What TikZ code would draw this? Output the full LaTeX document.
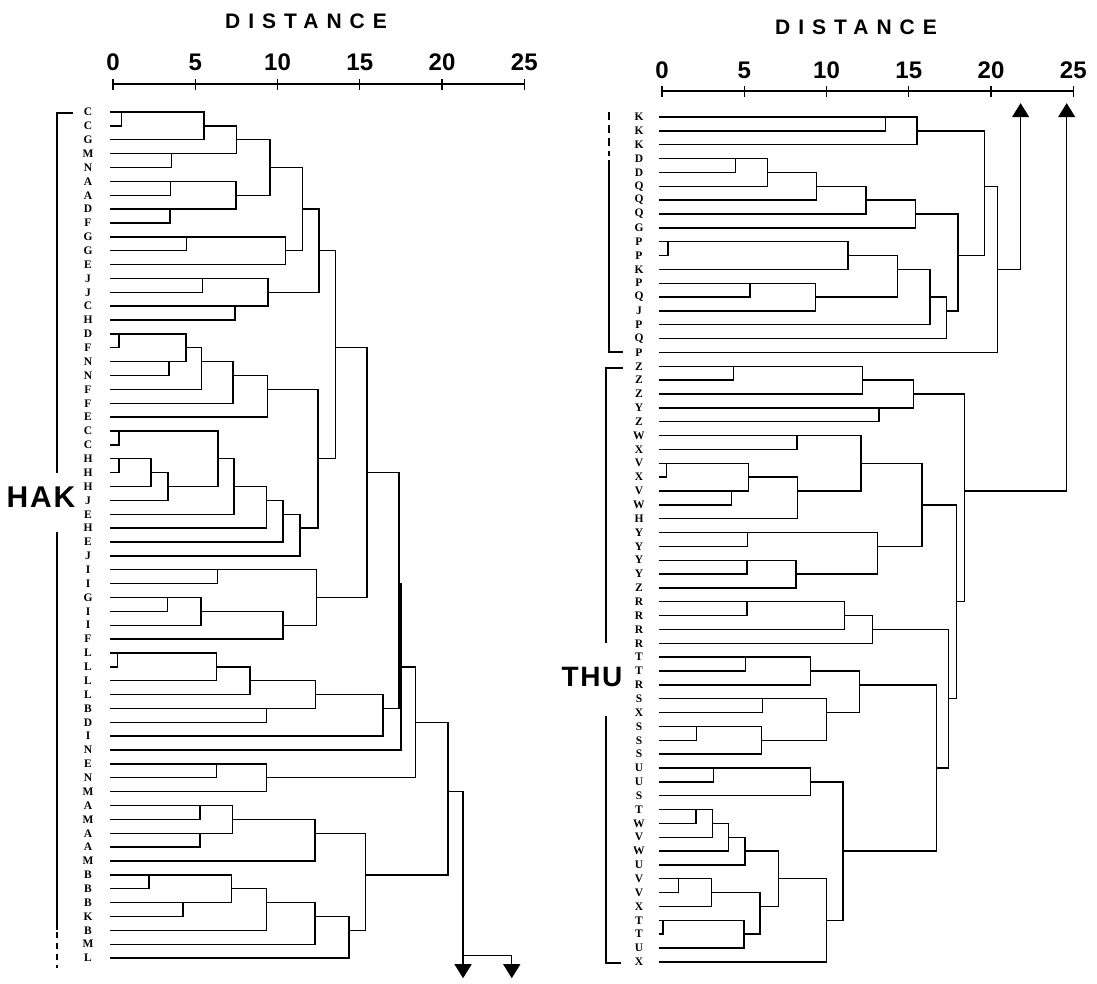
\documentclass[tikz,border=0pt]{standalone}
\usepackage{fontspec}
\setmainfont{Liberation Sans}
\newfontfamily\leaffont{Liberation Serif}
\usetikzlibrary{arrows.meta}

% row bookkeeping for the dendrogram nodes
\newcommand\setrow[2]{\expandafter\xdef\csname dgrow-#1\endcsname{#2}}
\newcommand\getrow[1]{\csname dgrow-#1\endcsname}
% leaf: coordinate name, row, label text
\newcommand\dgleaf[3]{%
  \coordinate (#1) at (-0.2,#2);%
  \node[leaflab] (#1n) at (\lblx,#2) {#3};%
  \setrow{#1}{#2}}
% join two clusters at a given distance; the new node sits on the middle row
\newcommand\dgjoin[4]{%
  \edef\dga{\getrow{#2}}\edef\dgb{\getrow{#3}}%
  \pgfmathtruncatemacro\dgr{floor((\dga+\dgb)/2)}%
  \setrow{#1}{\dgr}%
  \coordinate (#1) at (#4,\dgr);%
  \draw[tree] (#2) -- (#2 -| #1) -- (#3 -| #1) -- (#3);}

\tikzset{
  tree/.style={line width=1.4pt, line join=miter},
  leaflab/.style={font=\leaffont\bfseries\fontsize{11.5}{11.5}\selectfont, inner sep=0pt},
  ticklab/.style={font=\bfseries\fontsize{24}{24}\selectfont, inner sep=0pt},
  heading/.style={font=\bfseries\fontsize{21}{21}\selectfont\addfontfeature{LetterSpace=38}, inner sep=0pt},
  grouplab/.style={font=\bfseries\fontsize{28}{28}\selectfont\addfontfeature{LetterSpace=6}, inner sep=0pt},
  axisline/.style={line width=1.4pt},
  bracket/.style={line width=1.7pt},
  drop/.style={-{Triangle[width=17pt,length=14pt]}},
}

\begin{document}
\begin{tikzpicture}[x=1pt,y=-1pt]
\useasboundingbox (0,0) rectangle (1097,983);

% ---------- distance scales ----------
\node[heading] (hl) at (306,21) {DISTANCE};
\node[heading] (hr) at (856,27) {DISTANCE};
\draw[axisline] (113,84) -- (524.25,84);
\foreach \k in {0,...,5}{
  \draw[axisline] ({113+82.25*\k},79) -- ({113+82.25*\k},90);
  \pgfmathtruncatemacro\v{5*\k}
  \node[ticklab] (tl\k) at ({113+82.25*\k},62) {\v};
}
\draw[axisline] (662,91) -- (1073.25,91);
\foreach \k in {0,...,5}{
  \draw[axisline] ({662+82.25*\k},86) -- ({662+82.25*\k},97);
  \pgfmathtruncatemacro\v{5*\k}
  \node[ticklab] (tr\k) at ({662+82.25*\k},70) {\v};
}

% ---------- group brackets ----------
\node[grouplab, font=\bfseries\fontsize{30}{30}\selectfont\addfontfeature{LetterSpace=6}] (hak) at (41,497) {HAK};
\draw[bracket] (73,113) -- (57,113) -- (57,473);
\draw[bracket] (57,532) -- (57,930);
\draw[bracket, dashed, dash pattern=on 6pt off 5pt] (57,932) -- (57,968);

\node[grouplab] (thu) at (592,677) {THU};
\draw[bracket, dashed, dash pattern=on 8pt off 5pt] (609,112) -- (609,156);
\draw[bracket] (609,160) -- (609,352) -- (623,352);
\draw[bracket] (623,368) -- (606,368) -- (606,643);
\draw[bracket] (606,716) -- (606,963) -- (621,963);

% ---------- HAK dendrogram ----------
\begin{scope}[xshift=113pt, yshift=-98.13pt, x=16.45pt, y=-13.87pt]
\def\lblx{-1.52}
\foreach \t [count=\i] in {C,C,G,M,N,A,A,D,F,G,G,E,J,J,C,H,D,F,N,N,F,F,E,C,C,H,H,H,J,E,H,E,J,I,I,G,I,I,F,L,L,L,L,B,D,I,N,E,N,M,A,M,A,A,M,B,B,B,K,B,M,L}
  {\dgleaf{a\i}{\i}{\t}}
\dgjoin{a1t2}{a1}{a2}{0.53}
\dgjoin{a1t3}{a1t2}{a3}{5.53}
\dgjoin{a4t5}{a4}{a5}{3.57}
\dgjoin{a1t5}{a1t3}{a4t5}{7.52}
\dgjoin{a6t7}{a6}{a7}{3.5}
\dgjoin{a8t9}{a8}{a9}{3.47}
\dgjoin{a6t9}{a6t7}{a8t9}{7.48}
\dgjoin{a1t9}{a1t5}{a6t9}{9.54}
\dgjoin{a10t11}{a10}{a11}{4.48}
\dgjoin{a10t12}{a10t11}{a12}{10.5}
\dgjoin{a1t12}{a1t9}{a10t12}{11.52}
\dgjoin{a13t14}{a13}{a14}{5.45}
\dgjoin{a15t16}{a15}{a16}{7.42}
\dgjoin{a13t16}{a13t14}{a15t16}{9.42}
\dgjoin{a1t16}{a1t12}{a13t16}{12.52}
\dgjoin{a17t18}{a17}{a18}{0.36}
\dgjoin{a19t20}{a19}{a20}{3.4}
\dgjoin{a17t20}{a17t18}{a19t20}{4.44}
\dgjoin{a17t21}{a17t20}{a21}{5.39}
\dgjoin{a17t22}{a17t21}{a22}{7.3}
\dgjoin{a17t23}{a17t22}{a23}{9.4}
\dgjoin{a24t25}{a24}{a25}{0.36}
\dgjoin{a26t27}{a26}{a27}{0.36}
\dgjoin{a26t28}{a26t27}{a28}{2.31}
\dgjoin{a26t29}{a26t28}{a29}{3.34}
\dgjoin{a24t29}{a24t25}{a26t29}{6.38}
\dgjoin{a24t30}{a24t29}{a30}{7.36}
\dgjoin{a24t31}{a24t30}{a31}{9.34}
\dgjoin{a24t32}{a24t31}{a32}{10.33}
\dgjoin{a24t33}{a24t32}{a33}{11.37}
\dgjoin{a17t33}{a17t23}{a24t33}{12.46}
\dgjoin{a1t33}{a1t16}{a17t33}{13.54}
\dgjoin{a34t35}{a34}{a35}{6.36}
\dgjoin{a36t37}{a36}{a37}{3.33}
\dgjoin{a36t38}{a36t37}{a38}{5.35}
\dgjoin{a36t39}{a36t38}{a39}{10.33}
\dgjoin{a34t39}{a34t35}{a36t39}{12.37}
\dgjoin{a1t39}{a1t33}{a34t39}{15.44}
\dgjoin{a40t41}{a40}{a41}{0.29}
\dgjoin{a40t42}{a40t41}{a42}{6.3}
\dgjoin{a40t43}{a40t42}{a43}{8.33}
\dgjoin{a44t45}{a44}{a45}{9.34}
\dgjoin{a40t45}{a40t43}{a44t45}{12.31}
\dgjoin{a40t46}{a40t45}{a46}{16.41}
\dgjoin{a1t46}{a1t39}{a40t46}{17.39}
\dgjoin{a1t47}{a1t46}{a47}{17.5}
\dgjoin{a48t49}{a48}{a49}{6.3}
\dgjoin{a48t50}{a48t49}{a50}{9.33}
\dgjoin{a1t50}{a1t47}{a48t50}{18.4}
\dgjoin{a51t52}{a51}{a52}{5.29}
\dgjoin{a53t54}{a53}{a54}{5.29}
\dgjoin{a51t54}{a51t52}{a53t54}{7.28}
\dgjoin{a51t55}{a51t54}{a55}{12.28}
\dgjoin{a56t57}{a56}{a57}{2.19}
\dgjoin{a58t59}{a58}{a59}{4.26}
\dgjoin{a56t59}{a56t57}{a58t59}{7.22}
\dgjoin{a56t60}{a56t59}{a60}{9.34}
\dgjoin{a56t61}{a56t60}{a61}{12.28}
\dgjoin{a56t62}{a56t61}{a62}{14.35}
\dgjoin{a51t62}{a51t55}{a56t62}{15.36}
\dgjoin{a1t62}{a1t50}{a51t62}{20.36}
% continuation of the HAK cluster off the scale
\coordinate (aout) at (21.28,\getrow{a1t62});
\coordinate (asplit) at (21.28,61.8);
\coordinate (asplitr) at (24.24,61.8);
\coordinate (atipa) at (21.28,63.45);
\coordinate (atipb) at (24.24,63.45);
\draw[tree, drop] (a1t62) -- (aout) -- (atipa);
\draw[tree, drop] (asplit) -- (asplitr) -- (atipb);
\end{scope}

% ---------- THU dendrogram ----------
\begin{scope}[xshift=662pt, yshift=-103.15pt, x=16.45pt, y=-13.85pt]
\def\lblx{-1.40}
\foreach \t [count=\i] in {K,K,K,D,D,Q,Q,Q,G,P,P,K,P,Q,J,P,Q,P,Z,Z,Z,Y,Z,W,X,V,X,V,W,H,Y,Y,Y,Y,Z,R,R,R,R,T,T,R,S,X,S,S,S,U,U,S,T,W,V,W,U,V,V,X,T,T,U,X}
  {\dgleaf{b\i}{\i}{\t}}
\dgjoin{b1t2}{b1}{b2}{13.6}
\dgjoin{b1t3}{b1t2}{b3}{15.5}
\dgjoin{b4t5}{b4}{b5}{4.48}
\dgjoin{b4t6}{b4t5}{b6}{6.43}
\dgjoin{b4t7}{b4t6}{b7}{9.40}
\dgjoin{b4t8}{b4t7}{b8}{12.4}
\dgjoin{b4t9}{b4t8}{b9}{15.4}
\dgjoin{b10t11}{b10}{b11}{0.36}
\dgjoin{b10t12}{b10t11}{b12}{11.3}
\dgjoin{b13t14}{b13}{b14}{5.35}
\dgjoin{b13t15}{b13t14}{b15}{9.34}
\dgjoin{b10t15}{b10t12}{b13t15}{14.3}
\dgjoin{b10t16}{b10t15}{b16}{16.3}
\dgjoin{b10t17}{b10t16}{b17}{17.3}
\dgjoin{b4t17}{b4t9}{b10t17}{18.0}
\dgjoin{b1t17}{b1t3}{b4t17}{19.6}
\dgjoin{b1t18}{b1t17}{b18}{20.4}
\dgjoin{b19t20}{b19}{b20}{4.33}
\dgjoin{b19t21}{b19t20}{b21}{12.2}
\dgjoin{b22t23}{b22}{b23}{13.2}
\dgjoin{b19t23}{b19t21}{b22t23}{15.3}
\dgjoin{b24t25}{b24}{b25}{8.2}
\dgjoin{b26t27}{b26}{b27}{0.29}
\dgjoin{b28t29}{b28}{b29}{4.24}
\dgjoin{b26t29}{b26t27}{b28t29}{5.25}
\dgjoin{b26t30}{b26t29}{b30}{8.22}
\dgjoin{b24t30}{b24t25}{b26t30}{12.1}
\dgjoin{b31t32}{b31}{b32}{5.19}
\dgjoin{b33t34}{b33}{b34}{5.17}
\dgjoin{b33t35}{b33t34}{b35}{8.15}
\dgjoin{b31t35}{b31t32}{b33t35}{13.1}
\dgjoin{b24t35}{b24t30}{b31t35}{15.8}
\dgjoin{b36t37}{b36}{b37}{5.17}
\dgjoin{b36t38}{b36t37}{b38}{11.1}
\dgjoin{b36t39}{b36t38}{b39}{12.8}
\dgjoin{b40t41}{b40}{b41}{5.09}
\dgjoin{b40t42}{b40t41}{b42}{9.04}
\dgjoin{b43t44}{b43}{b44}{6.1}
\dgjoin{b45t46}{b45}{b46}{2.11}
\dgjoin{b45t47}{b45t46}{b47}{6.06}
\dgjoin{b43t47}{b43t44}{b45t47}{10.0}
\dgjoin{b40t47}{b40t42}{b43t47}{12.0}
\dgjoin{b48t49}{b48}{b49}{3.12}
\dgjoin{b48t50}{b48t49}{b50}{9.04}
\dgjoin{b51t52}{b51}{b52}{2.07}
\dgjoin{b51t53}{b51t52}{b53}{3.08}
\dgjoin{b51t54}{b51t53}{b54}{4.03}
\dgjoin{b51t55}{b51t54}{b55}{5.05}
\dgjoin{b56t57}{b56}{b57}{0.99}
\dgjoin{b56t58}{b56t57}{b58}{3.02}
\dgjoin{b59t60}{b59}{b60}{0.05}
\dgjoin{b59t61}{b59t60}{b61}{4.98}
\dgjoin{b56t61}{b56t58}{b59t61}{5.96}
\dgjoin{b51t61}{b51t55}{b56t61}{7.07}
\dgjoin{b51t62}{b51t61}{b62}{10.0}
\dgjoin{b48t62}{b48t50}{b51t62}{11.0}
\dgjoin{b40t62}{b40t47}{b48t62}{16.7}
\dgjoin{b36t62}{b36t39}{b40t62}{17.4}
\dgjoin{b24t62}{b24t35}{b36t62}{17.9}
\dgjoin{b19t62}{b19t23}{b24t62}{18.4}
% both THU sub-trees continue upward off the scale
\coordinate (bouta) at (21.8,\getrow{b1t18});
\coordinate (btipa) at (21.8,0);
\coordinate (boutb) at (24.6,\getrow{b19t62});
\coordinate (btipb) at (24.6,0);
\draw[tree, drop] (b1t18) -- (bouta) -- (btipa);
\draw[tree, drop] (b19t62) -- (boutb) -- (btipb);
\end{scope}
\end{tikzpicture}
\end{document}
